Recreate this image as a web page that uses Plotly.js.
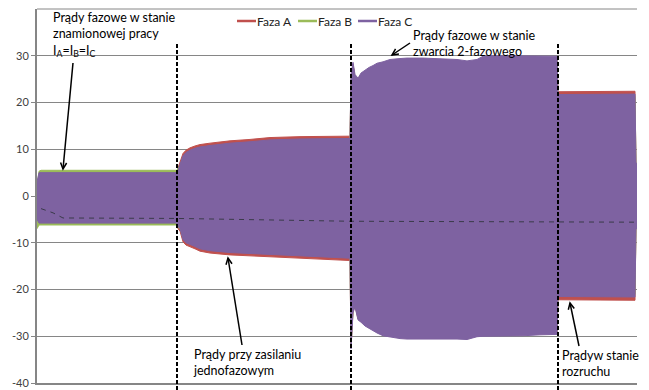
<!DOCTYPE html>
<html><head><meta charset="utf-8">
<script src="https://cdn.plot.ly/plotly-3.0.1.min.js"></script>
<style>html,body{margin:0;padding:0;background:#fff}#chart{width:649px;height:390px}</style>
</head><body><div id="chart"></div>
<script>
// time samples (arbitrary units along the recording)
const t = [0, 2, 4, 140,
  141, 143, 146, 149, 153, 158, 163, 173, 193, 213, 233, 263, 283, 313,
  314, 316, 318, 321, 324, 328, 332, 336, 340, 346, 353, 363, 370, 386, 403, 420, 430, 440, 446, 453, 470, 486, 503, 518, 520,
  521, 523, 543, 563, 583, 598, 599, 600];

// Faza A envelope (peak values)
const aUp = [2, 4.6, 4.7, 4.7,
  6.0, 7.1, 9.1, 9.8, 10.3, 10.7, 11.0, 11.3, 11.8, 12.1, 12.5, 12.7, 12.7, 12.8,
  24, 28.2, 25.5, 25, 26, 26.6, 27.2, 27.6, 28.1, 28.4, 28.9, 29.1, 29.2, 29.2, 29.1, 28.9, 28.6, 28.9, 29.6, 29.7, 29.7, 29.7, 29.6, 29.6, 29.6,
  22.3, 22.3, 22.4, 22.4, 22.4, 22.4, 6, 6];
const aLo = [-5, -5.6, -5.6, -5.6,
  -7.0, -7.5, -9.8, -10.5, -10.8, -11.3, -11.8, -12.2, -12.6, -12.9, -13.1, -13.3, -13.5, -13.8,
  -32.4, -24.8, -23.5, -26.3, -26.8, -27.6, -28.1, -28.6, -29.1, -29.7, -30.0, -30.3, -30.4, -30.5, -30.4, -30.4, -30.5, -29.9, -29.8, -29.7, -29.7, -29.7, -29.5, -29.4, -29.4,
  -22.2, -22.2, -22.3, -22.3, -22.3, -22.3, -6, -6];

// Faza B envelope
const bUp = [2, 5.3, 5.5, 5.5,
  6, 6.5, 8.3, 9.0, 9.5, 9.9, 10.2, 10.5, 11.0, 11.3, 11.7, 11.9, 11.9, 12.0,
  25, 28, 25.4, 24.6, 25.7, 26.3, 26.9, 27.3, 27.8, 28.1, 28.6, 28.8, 28.9, 28.9, 28.8, 28.6, 28.3, 28.6, 29.3, 29.4, 29.4, 29.4, 29.3, 29.3, 29.3,
  21.2, 21.2, 21.3, 21.3, 21.3, 21.3, 6.5, 6.5];
const bLo = [-7, -6.2, -6.2, -6.2,
  -6.8, -6.8, -9.0, -9.7, -10.0, -10.5, -11.0, -11.4, -11.8, -12.1, -12.3, -12.5, -12.7, -13.0,
  -32, -24.4, -23.1, -25.9, -26.4, -27.2, -27.7, -28.2, -28.7, -29.3, -29.6, -29.9, -30.0, -30.1, -30.0, -30.0, -30.1, -29.5, -29.4, -29.3, -29.3, -29.3, -29.1, -29.0, -29.0,
  -21, -21, -21, -21, -21, -21, -6.5, -6.5];

// Faza C envelope
const cUp = [3, 5, 5.0, 5.0,
  5.5, 6.6, 8.6, 9.3, 9.8, 10.2, 10.5, 10.8, 11.3, 11.6, 12.0, 12.2, 12.2, 12.3,
  26, 28.6, 26, 25.2, 26.3, 26.9, 27.5, 27.9, 28.4, 28.7, 29.2, 29.4, 29.5, 29.5, 29.4, 29.2, 28.9, 29.2, 29.9, 30.0, 30.0, 30.0, 29.9, 29.9, 29.9,
  21.7, 21.7, 21.8, 21.8, 21.8, 21.8, 7, 7];
const cLo = [-5, -5.8, -5.8, -5.8,
  -6.5, -7, -9.3, -10, -10.3, -10.8, -11.3, -11.7, -12.1, -12.4, -12.6, -12.8, -13, -13.3,
  -32.7, -25, -23.7, -26.5, -27, -27.8, -28.3, -28.8, -29.3, -29.9, -30.2, -30.5, -30.6, -30.7, -30.6, -30.6, -30.7, -30.1, -30.0, -29.9, -29.9, -29.9, -29.7, -29.6, -29.6,
  -21.5, -21.5, -21.6, -21.6, -21.6, -21.6, -7, -7];

// dashed reference (mean) line
const trendX = [4, 16, 26, 140, 313, 600];
const trendY = [-2.7, -3.6, -4.7, -4.8, -5.4, -5.6];

// segment boundaries (vertical dashed lines)
const boundaries = [140, 314, 521];

const seriesNames = ['Faza A', 'Faza B', 'Faza C'];
const yTicks = [-40, -30, -20, -10, 0, 10, 20, 30];
const yTickText = ['-40', '-30', '-20', '-10', '0', '10', '20', '30'];

const colors = ['#C0504D', '#9BBB59', '#7E62A1'];
const FONT = 'Lato, "Open Sans", sans-serif';

function band(up, lo, color, name) {
  return {
    type: 'scatter', mode: 'lines', name: name,
    x: t.concat(t.slice().reverse()),
    y: up.concat(lo.slice().reverse()),
    fill: 'toself', fillcolor: color,
    line: {color: color, width: 1},
    showlegend: false, hoverinfo: 'skip'
  };
}

const traces = [
  band(aUp, aLo, colors[0], seriesNames[0]),
  band(bUp, bLo, colors[1], seriesNames[1]),
  band(cUp, cLo, colors[2], seriesNames[2]),
  {type: 'scatter', mode: 'lines', x: trendX, y: trendY, showlegend: false,
   line: {color: '#3a3a4a', width: 1, dash: '5px,5px'}, hoverinfo: 'skip'}
];

// px -> paper helpers (plot area 37..637 x 9..383)
const px = v => (v - 37) / 600;
const py = v => (383 - v) / 374;

const shapes = [
  // top gridline (40)
  {type: 'line', xref: 'paper', yref: 'paper', x0: 0, x1: 1, y0: 1, y1: 1, line: {color: '#868686', width: 1}, layer: 'below'}
];
boundaries.forEach(b => shapes.push({
  type: 'line', xref: 'x', yref: 'paper', x0: b, x1: b, y0: py(390), y1: py(43),
  line: {color: '#000', width: 2, dash: '4px,2px'}, layer: 'above'
}));

// arrows drawn as shapes: shaft + open chevron head (pixel geometry)
function arrow(hx, hy, tx, ty) {
  const ang = Math.atan2(ty - hy, tx - hx);
  const L = 7, A = 0.45;
  const p1 = [hx + L * Math.cos(ang + A), hy + L * Math.sin(ang + A)];
  const p2 = [hx + L * Math.cos(ang - A), hy + L * Math.sin(ang - A)];
  shapes.push({type: 'line', xref: 'paper', yref: 'paper', x0: px(tx), y0: py(ty), x1: px(hx), y1: py(hy),
    line: {color: '#000', width: 1.5}, layer: 'above'});
  shapes.push({type: 'path', xref: 'paper', yref: 'paper',
    path: `M${px(p1[0])},${py(p1[1])} L${px(hx)},${py(hy)} L${px(p2[0])},${py(p2[1])}`,
    line: {color: '#000', width: 1.5}, layer: 'above'});
}
arrow(63, 169, 73, 63);
arrow(392, 55, 410, 43);
arrow(228, 258, 242, 345);
arrow(570, 303, 579, 346);

// compact legend (Excel style: short line + label)
const legendStarts = [237, 298, 358];
const annotations = [];
seriesNames.forEach((n, i) => {
  shapes.push({type: 'line', xref: 'paper', yref: 'paper',
    x0: px(legendStarts[i]), x1: px(legendStarts[i] + 19), y0: py(21), y1: py(21),
    line: {color: colors[i], width: 2.5}});
  annotations.push({xref: 'paper', yref: 'paper', x: px(legendStarts[i] + 19), y: py(21),
    xanchor: 'left', yanchor: 'middle', showarrow: false, text: n, borderpad: 0,
    font: {family: FONT, size: 12, color: '#222'}});
});

const annFont = {family: FONT, size: 12.5, color: '#000'};
annotations.push(
  {xref: 'paper', yref: 'paper', x: px(52), y: py(9), xanchor: 'left', yanchor: 'top', showarrow: false, align: 'left', borderpad: 0,
   text: 'Prądy fazowe w stanie<br>znamionowej pracy<br>I<sub>A</sub>=I<sub>B</sub>=I<sub>C</sub>', font: annFont},
  {xref: 'paper', yref: 'paper', x: px(412), y: py(27), xanchor: 'left', yanchor: 'top', showarrow: false, align: 'left', borderpad: 0,
   text: 'Prądy fazowe w stanie<br>zwarcia 2-fazowego', font: annFont},
  {xref: 'paper', yref: 'paper', x: px(192), y: py(346), xanchor: 'left', yanchor: 'top', showarrow: false, align: 'left', borderpad: 0,
   text: 'Prądy przy zasilaniu<br>jednofazowym', font: annFont},
  {xref: 'paper', yref: 'paper', x: px(561), y: py(347), xanchor: 'left', yanchor: 'top', showarrow: false, align: 'left', borderpad: 0,
   text: 'Prądyw stanie<br>rozruchu', font: annFont}
);

const layout = {
  width: 649, height: 390,
  margin: {l: 37, r: 12, t: 9, b: 7},
  paper_bgcolor: '#fff', plot_bgcolor: '#fff',
  font: {family: FONT, size: 11, color: '#222'},
  showlegend: false,
  xaxis: {range: [0, 600], showgrid: false, zeroline: false, showticklabels: false,
          showline: true, linecolor: '#868686', linewidth: 2, ticks: ''},
  yaxis: {range: [-40, 40], tickmode: 'array', tickvals: yTicks, ticktext: yTickText,
          showgrid: true, gridcolor: '#868686', gridwidth: 1, zeroline: false,
          showline: true, linecolor: '#868686', linewidth: 2,
          ticks: 'outside', ticklen: 4, tickcolor: '#868686',
          tickfont: {family: FONT, size: 11, color: '#404040'}},
  shapes: shapes,
  annotations: annotations
};

Plotly.newPlot('chart', traces, layout, {staticPlot: true, displayModeBar: false});
</script>
</body></html>
